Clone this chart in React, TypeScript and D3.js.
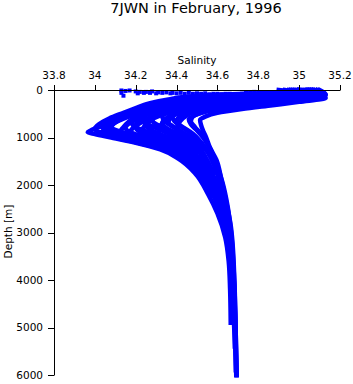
import React from "react";
import * as d3 from "d3";

// ---- data: [depth (m), salinity] per station profile ----
const p1: [number, number][] = [[0,34.98],[50,35.02],[90,34.85],[130,34.55],[180,34.44],[240,34.4],[320,34.28],[420,34.22],[500,34.19],[600,34.11],[740,34.04],[850,33.98],[890,33.965],[930,34.0],[1000,34.08],[1100,34.19],[1250,34.32],[1450,34.41],[1750,34.49],[2200,34.555],[2600,34.6],[3100,34.638],[3600,34.655],[4200,34.662],[4900,34.665]];
const p2: [number, number][] = [[0,35.0],[60,35.05],[100,34.9],[150,34.65],[220,34.48],[300,34.35],[420,34.25],[550,34.17],[700,34.09],[860,34.04],[950,34.1],[1050,34.2],[1200,34.33],[1400,34.43],[1700,34.505],[2100,34.565],[2600,34.615],[3100,34.645],[3700,34.662],[4500,34.67],[4900,34.672]];
const p3: [number, number][] = [[0,35.02],[60,35.08],[110,34.95],[170,34.75],[250,34.55],[350,34.4],[480,34.28],[620,34.2],[800,34.15],[900,34.18],[1000,34.25],[1150,34.36],[1350,34.45],[1650,34.52],[2000,34.57],[2500,34.615],[3000,34.645],[3600,34.665],[4300,34.675],[5000,34.682],[5400,34.685]];
const p4: [number, number][] = [[0,35.05],[70,35.1],[120,35.0],[190,34.8],[280,34.6],[380,34.45],[520,34.33],[650,34.27],[750,34.25],[850,34.28],[950,34.33],[1100,34.42],[1300,34.48],[1600,34.54],[2000,34.585],[2500,34.625],[3000,34.652],[3700,34.672],[4500,34.682],[5500,34.688],[5900,34.69]];
const p5: [number, number][] = [[0,35.06],[80,35.11],[140,35.02],[210,34.82],[300,34.62],[400,34.48],[550,34.37],[700,34.33],[800,34.35],[900,34.39],[1050,34.45],[1250,34.5],[1550,34.55],[1950,34.595],[2450,34.635],[3000,34.658],[3800,34.677],[4800,34.686],[6000,34.692]];
const p6: [number, number][] = [[0,35.08],[90,35.12],[150,35.05],[230,34.85],[320,34.65],[420,34.5],[550,34.42],[650,34.4],[760,34.42],[880,34.46],[1050,34.5],[1300,34.55],[1600,34.585],[2000,34.615],[2500,34.645],[3100,34.665],[4000,34.68],[5000,34.688],[6000,34.693]];
const p7: [number, number][] = [[0,35.1],[100,35.13],[170,35.08],[250,34.9],[330,34.7],[430,34.56],[530,34.49],[620,34.46],[720,34.47],[850,34.5],[1000,34.53],[1250,34.565],[1550,34.595],[1950,34.625],[2450,34.65],[3000,34.667],[4000,34.682],[5000,34.689],[6000,34.694]];
const p8: [number, number][] = [[0,35.0],[100,35.12],[170,35.13],[250,35.0],[320,34.87],[400,34.72],[480,34.6],[560,34.54],[630,34.515],[740,34.52],[840,34.528],[1000,34.545],[1200,34.562],[1470,34.595],[1900,34.62],[2460,34.648],[2880,34.666],[3120,34.672],[4000,34.683],[5000,34.689],[6000,34.694]];
const p9: [number, number][] = [[0,34.9],[40,34.95],[70,34.8],[100,34.6],[140,34.45],[200,34.36],[280,34.27],[380,34.2],[480,34.14],[600,34.07],[720,34.02],[820,34.0],[880,34.02],[960,34.1],[1060,34.22],[1180,34.33],[1350,34.4],[1600,34.47]];
const p10: [number, number][] = [[0,35.04],[70,35.09],[130,34.98],[200,34.72],[290,34.52],[400,34.38],[520,34.3],[650,34.24],[780,34.2],[880,34.22],[980,34.28],[1120,34.38],[1300,34.45],[1550,34.51],[1900,34.56]];
const p11: [number, number][] = [[0,35.07],[80,35.11],[150,35.0],[230,34.76],[330,34.56],[450,34.44],[580,34.37],[700,34.36],[820,34.4],[950,34.45],[1150,34.5],[1400,34.54],[1750,34.58]];
const p12: [number, number][] = [[0,34.95],[50,35.0],[90,34.82],[130,34.58],[190,34.42],[270,34.32],[370,34.24],[470,34.19],[580,34.14],[680,34.1],[780,34.08],[870,34.12],[960,34.2],[1080,34.3],[1230,34.39],[1450,34.46],[1750,34.52]];
const p13: [number, number][] = [[0,35.0],[60,35.06],[110,34.92],[170,34.7],[240,34.52],[330,34.38],[440,34.28],[570,34.22],[700,34.18],[800,34.21],[900,34.27],[1020,34.35],[1180,34.43],[1400,34.49],[1700,34.54]];
const p14: [number, number][] = [[0,35.04],[70,35.1],[130,35.0],[200,34.78],[280,34.58],[380,34.43],[500,34.33],[620,34.28],[720,34.3],[830,34.36],[960,34.42],[1120,34.48],[1350,34.53]];
const p15: [number, number][] = [[0,35.07],[90,35.12],[160,35.04],[240,34.82],[330,34.6],[440,34.45],[560,34.38],[660,34.39],[780,34.43],[920,34.48],[1100,34.52],[1350,34.56]];
const p16: [number, number][] = [[0,35.09],[100,35.13],[180,35.06],[270,34.86],[360,34.66],[460,34.54],[560,34.48],[660,34.47],[780,34.49],[930,34.52],[1120,34.55],[1380,34.58]];
const p17: [number, number][] = [[0,34.97],[50,35.01],[95,34.84],[140,34.56],[200,34.43],[290,34.33],[400,34.26],[520,34.21],[650,34.17],[780,34.14],[920,34.12],[1000,34.16],[1100,34.25],[1230,34.35],[1400,34.42],[1650,34.49],[2000,34.545]];
const p18: [number, number][] = [[0,35.01],[60,35.07],[110,34.93],[170,34.7],[250,34.52],[350,34.4],[480,34.32],[620,34.27],[780,34.24],[950,34.22],[1040,34.26],[1150,34.34],[1300,34.42],[1500,34.48],[1800,34.53],[2200,34.575]];
const p19: [number, number][] = [[0,35.03],[70,35.09],[130,34.98],[200,34.76],[290,34.56],[400,34.44],[540,34.37],[700,34.33],[900,34.31],[1000,34.34],[1120,34.4],[1300,34.46],[1550,34.52],[1900,34.565]];
const p20: [number, number][] = [[0,35.06],[85,35.11],[150,35.02],[230,34.8],[330,34.6],[450,34.49],[600,34.43],[850,34.4],[950,34.42],[1080,34.46],[1300,34.51],[1600,34.555]];
const p21: [number, number][] = [[0,35.05],[75,35.1],[140,35.0],[210,34.78],[300,34.55],[420,34.4],[560,34.33],[650,34.34],[760,34.38],[900,34.43],[1080,34.48],[1300,34.52]];
const p22: [number, number][] = [[0,35.0],[55,35.05],[100,34.9],[150,34.64],[210,34.46],[300,34.34],[420,34.26],[580,34.22],[680,34.24],[800,34.3],[930,34.37],[1080,34.44],[1300,34.5]];
const p23: [number, number][] = [[0,34.96],[50,35.0],[92,34.83],[135,34.56],[190,34.43],[280,34.32],[390,34.24],[500,34.18],[620,34.12],[760,34.08],[930,34.06],[1000,34.1],[1080,34.18],[1200,34.3],[1380,34.4],[1650,34.48]];
const p24: [number, number][] = [[0,34.99],[55,35.04],[105,34.9],[160,34.64],[230,34.47],[330,34.35],[450,34.28],[600,34.23],[780,34.19],[980,34.16],[1060,34.2],[1160,34.28],[1300,34.37],[1500,34.45],[1800,34.51]];
const p25: [number, number][] = [[0,34.93],[45,34.97],[80,34.81],[115,34.58],[160,34.44],[230,34.36],[320,34.27],[430,34.2],[540,34.14],[650,34.08],[760,34.03],[830,34.05],[900,34.1],[990,34.18],[1100,34.28],[1250,34.37],[1450,34.44]];

const profiles = [p1, p2, p3, p4, p5, p6, p7, p8, p9, p10, p11, p12, p13, p14, p15, p16, p17, p18, p19, p20, p21, p22, p23, p24, p25];

// near-surface samples of low-salinity stations
const surfaceSal = [34.13, 34.13, 34.14, 34.15, 34.17, 34.2, 34.21, 34.22, 34.24, 34.25, 34.27, 34.28, 34.3, 34.31, 34.33, 34.35, 34.37, 34.38, 34.4, 34.42, 34.44, 34.46, 34.48, 34.5, 34.52, 34.54, 34.56, 34.58, 34.6, 34.62, 34.64, 34.66, 34.68, 34.7, 34.72, 34.74, 34.76, 34.78];
const surfaceDepth = [10, 60, 120, 20, 10, 30, 70, 40, 60, 40, 60, 30, 70, 50, 60, 50, 70, 60, 70, 60, 80, 60, 80, 70, 80, 70, 90, 80, 80, 90, 80, 80, 90, 90, 80, 60, 50, 40];

const xTicks = [33.8, 34, 34.2, 34.4, 34.6, 34.8, 35, 35.2];
const xTickLabels = ["33.8", "34", "34.2", "34.4", "34.6", "34.8", "35", "35.2"];
const yTicks = [0, 1000, 2000, 3000, 4000, 5000, 6000];

export default function App() {
  const W = 353, H = 384;
  const x = d3.scaleLinear().domain([33.8, 35.2]).range([54, 340]);
  const y = d3.scaleLinear().domain([0, 6000]).range([90, 375]);
  const line = d3
    .line<[number, number]>()
    .x((d) => x(d[1]))
    .y((d) => y(d[0]))
    .curve(d3.curveMonotoneY);
  const font = "'DejaVu Sans', sans-serif";
  const blue = "#0000ff";
  return (
    <svg width={W} height={H} style={{ position: "absolute", left: 0, top: 0, background: "#fff" }} fontFamily={font}>
      <rect width={W} height={H} fill="#fff" />
      <text x={196} y={13} fontSize={14.5} textAnchor="middle">7JWN in February, 1996</text>
      <text x={197} y={64} fontSize={10.5} textAnchor="middle">Salinity</text>
      <text transform="translate(12,231.5) rotate(-90)" fontSize={10.5} textAnchor="middle">Depth [m]</text>
      {/* data */}
      <g fill="none" stroke={blue} strokeWidth={4.5} strokeLinejoin="round" strokeLinecap="square">
        {profiles.map((p, i) => (
          <path key={i} d={line(p) || ""} />
        ))}
      </g>
      <g fill={blue}>
        {surfaceSal.map((s, i) => (
          <rect key={i} x={x(s) - 2} y={y(surfaceDepth[i]) - 2} width={4} height={4} />
        ))}
      </g>
      {/* axes */}
      <g stroke="#000" strokeWidth={1} fill="none">
        <line x1={x(33.8)} x2={x(35.2)} y1={90.5} y2={90.5} />
        <line x1={54.5} x2={54.5} y1={y(0)} y2={y(6000)} />
        {xTicks.map((t) => (
          <line key={t} x1={Math.round(x(t)) + 0.5} x2={Math.round(x(t)) + 0.5} y1={85} y2={90.5} />
        ))}
        {yTicks.map((t) => (
          <line key={t} x1={48} x2={54.5} y1={Math.round(y(t)) + 0.5} y2={Math.round(y(t)) + 0.5} />
        ))}
      </g>
      <g fontSize={10.5} fill="#000">
        {xTicks.map((t, i) => (
          <text key={t} x={x(t)} y={79} textAnchor="middle">{xTickLabels[i]}</text>
        ))}
        {yTicks.map((t) => (
          <text key={t} x={43} y={y(t)} dy="0.36em" textAnchor="end">{t}</text>
        ))}
      </g>
    </svg>
  );
}
